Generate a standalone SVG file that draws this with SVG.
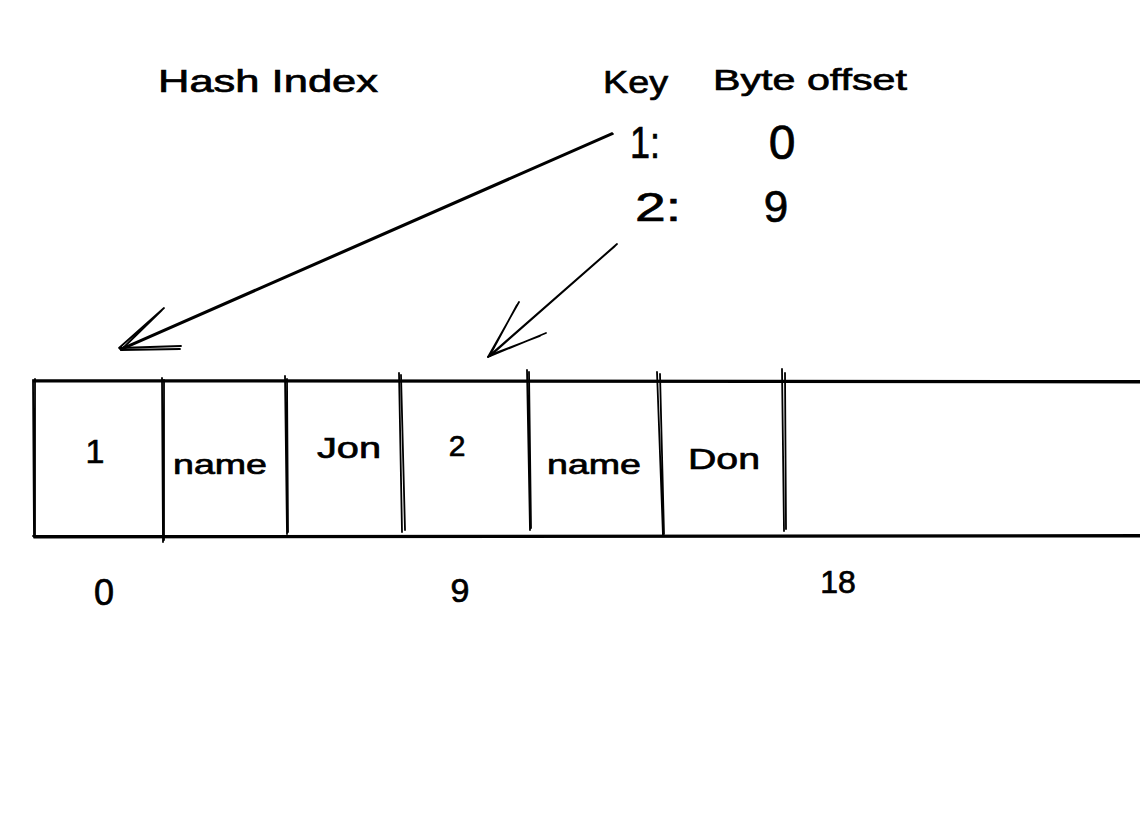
<svg xmlns="http://www.w3.org/2000/svg" width="1140" height="818" viewBox="0 0 1140 818">
<style>
.s{fill:none;stroke:#000;stroke-width:1.8;stroke-linecap:round;stroke-linejoin:round}
.t{font-family:"Liberation Sans",Arial,sans-serif;fill:#000;stroke:#000;stroke-width:0.7}
</style>
<rect width="1140" height="818" fill="#fff"/>
<g id="record">
<path class="s" d="M33 380 L1145 381 M34 381.5 L1145 382.5 M33 380 L34 537 M35 379 L35 535 M33 536 L1145 535 M34 537.5 L1145 536.5"/>
<path class="s" d="M162 378 L163 542 M164 380 L164 540"/>
<path class="s" d="M285 376 L287 534 M287 379 L288 532"/>
<path class="s" d="M399 373 L402 532 M401 375 L405 530"/>
<path class="s" d="M527 370 L530 530 M529 372 L531 528"/>
<path class="s" d="M657 372 L663 536 M660 374 L664 534"/>
<path class="s" d="M782 369 L784 531 M785 373 L786 529"/>
</g>
<g id="cells" class="t">
<text x="95" y="463" font-size="34" text-anchor="middle">1</text>
<text x="220" y="474" font-size="28" text-anchor="middle" textLength="94" lengthAdjust="spacingAndGlyphs">name</text>
<text x="349" y="458" font-size="30" text-anchor="middle" textLength="64" lengthAdjust="spacingAndGlyphs">Jon</text>
<text x="457" y="456" font-size="30" text-anchor="middle">2</text>
<text x="594" y="474" font-size="28" text-anchor="middle" textLength="94" lengthAdjust="spacingAndGlyphs">name</text>
<text x="724" y="469" font-size="30" text-anchor="middle" textLength="72" lengthAdjust="spacingAndGlyphs">Don</text>
</g>
<g id="offsets" class="t">
<text x="104" y="605" font-size="36" text-anchor="middle">0</text>
<text x="460" y="602" font-size="34" text-anchor="middle">9</text>
<text x="838" y="593" font-size="32" text-anchor="middle">18</text>
</g>
<g id="title" class="t">
<text x="158" y="92" font-size="32" textLength="220" lengthAdjust="spacingAndGlyphs">Hash Index</text>
</g>
<g id="table" class="t">
<text x="603" y="93" font-size="32" textLength="65" lengthAdjust="spacingAndGlyphs">Key</text>
<text x="713" y="90" font-size="30" textLength="194" lengthAdjust="spacingAndGlyphs">Byte offset</text>
<text x="630" y="158" font-size="44" textLength="30" lengthAdjust="spacingAndGlyphs">1:</text>
<text x="782" y="159" font-size="48" text-anchor="middle">0</text>
<text x="635" y="221" font-size="40" textLength="46" lengthAdjust="spacingAndGlyphs">2:</text>
<text x="776" y="222" font-size="44" text-anchor="middle">9</text>
</g>
<g id="connectors">
<path class="s" d="M612 133 L120 349 M613 134 L121 350"/>
<path class="s" d="M164 308 L119 348 L181 346 M162 310 L121 350 L180 349"/>
<path class="s" d="M617 244 L488 357 M615 246 L490 356"/>
<path class="s" d="M519 302 L488 357 L546 333 M517 305 L490 355 L540 336"/>
</g>
</svg>
